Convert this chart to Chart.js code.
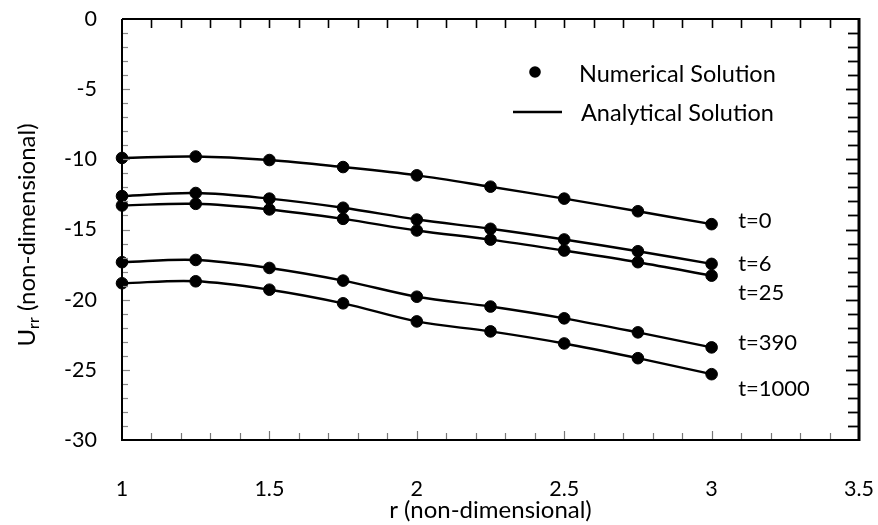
<!DOCTYPE html>
<html><head><meta charset="utf-8">
<script src="https://cdn.jsdelivr.net/npm/chart.js@4.4.0/dist/chart.umd.min.js"></script>
<style>html,body{margin:0;padding:0;background:#fff}#wrap{width:878px;height:525px;position:relative}</style>
</head><body><div id="wrap"><canvas id="c" width="878" height="525"></canvas></div>
<script>
// ---- data ----
const rValues = [1, 1.25, 1.5, 1.75, 2, 2.25, 2.5, 2.75, 3];
const seriesNames = ['t=0', 't=6', 't=25', 't=390', 't=1000'];
const u_t0    = [-9.90, -9.80, -10.05, -10.55, -11.14, -11.95, -12.80, -13.70, -14.62];
const u_t6    = [-12.62, -12.40, -12.80, -13.45, -14.29, -14.95, -15.71, -16.55, -17.45];
const u_t25   = [-13.29, -13.17, -13.57, -14.24, -15.07, -15.72, -16.50, -17.33, -18.29];
const u_t390  = [-17.33, -17.17, -17.74, -18.64, -19.79, -20.49, -21.33, -22.33, -23.40];
const u_t1000 = [-18.83, -18.69, -19.29, -20.26, -21.55, -22.26, -23.12, -24.17, -25.31];
const xTickValues = [1, 1.5, 2, 2.5, 3, 3.5];
const yTickValues = [0, -5, -10, -15, -20, -25, -30];
const legendNames = ['Numerical Solution', 'Analytical Solution'];
const xTitle = 'r (non-dimensional)';
const yTitleMain = 'U', yTitleSub = 'rr', yTitleRest = ' (non-dimensional)';

// ---- layout / style (not data) ----
const seriesValues = [u_t0, u_t6, u_t25, u_t390, u_t1000];
const labelAnchorX = 3.09;
const labelAnchorY = [-14.36, -17.43, -19.5, -23.07, -26.36];
const FONT = 'Lato';

const datasets = [];
seriesValues.forEach((vals, i) => {
  const pts = rValues.map((r, k) => ({x: r, y: vals[k]}));
  datasets.push({
    label: seriesNames[i] + ' analytical', data: pts, showLine: true,
    borderColor: '#000', borderWidth: 2.4, pointRadius: 0, tension: 0.35,
    clip: false, order: 2
  });
  datasets.push({
    label: seriesNames[i] + ' numerical', data: pts, showLine: false,
    backgroundColor: '#000', borderColor: '#000', pointRadius: 5.8, pointHoverRadius: 5.8,
    clip: false, order: 1
  });
});

const decor = {
  id: 'decor',
  afterDatasetsDraw(chart) {
    const {ctx, chartArea: a, scales: {x, y}} = chart;
    ctx.save();
    for (let i = 1; i < 25; i++) {
      const v = 1 + i * 0.1;
      const px = Math.round(x.getPixelForValue(v)) + 0.5;
      const major = i % 5 === 0;
      ctx.strokeStyle = '#000'; ctx.lineWidth = 1.6;
      ctx.beginPath(); ctx.moveTo(px, a.top); ctx.lineTo(px, a.top + 9); ctx.stroke();
      ctx.strokeStyle = '#777'; ctx.lineWidth = 1.2;
      ctx.beginPath(); ctx.moveTo(px, a.bottom); ctx.lineTo(px, a.bottom - (major ? 9 : 7)); ctx.stroke();
    }
    for (let i = 1; i < 30; i++) {
      const v = -i;
      const py = Math.round(y.getPixelForValue(v)) + 0.5;
      const major = i % 5 === 0;
      ctx.strokeStyle = '#888'; ctx.lineWidth = 1.2;
      ctx.beginPath(); ctx.moveTo(a.left, py); ctx.lineTo(a.left + (major ? 8 : 6), py); ctx.stroke();
      ctx.strokeStyle = '#000'; ctx.lineWidth = 1.8;
      ctx.beginPath(); ctx.moveTo(a.right, py); ctx.lineTo(a.right - (major ? 13 : 11), py); ctx.stroke();
    }
    ctx.strokeStyle = '#000'; ctx.lineWidth = 2;
    ctx.beginPath();
    ctx.moveTo(a.left, a.top); ctx.lineTo(a.right, a.top);
    ctx.moveTo(a.left, a.top); ctx.lineTo(a.left, a.bottom); ctx.lineTo(a.right, a.bottom);
    ctx.stroke();
    ctx.lineWidth = 3;
    ctx.beginPath(); ctx.moveTo(a.right, a.top - 1); ctx.lineTo(a.right, a.bottom + 1); ctx.stroke();

    // series labels
    ctx.fillStyle = '#000';
    ctx.font = '22px ' + FONT;
    ctx.textAlign = 'left'; ctx.textBaseline = 'middle';
    seriesNames.forEach((n, i) => {
      ctx.fillText(n, x.getPixelForValue(labelAnchorX), y.getPixelForValue(labelAnchorY[i]));
    });

    // legend
    ctx.font = '23.5px ' + FONT;
    ctx.beginPath(); ctx.arc(535, 72, 5.8, 0, Math.PI * 2); ctx.fill();
    ctx.fillText(legendNames[0], 579, 74);
    ctx.lineWidth = 2.4;
    ctx.beginPath(); ctx.moveTo(513, 112); ctx.lineTo(562, 112); ctx.stroke();
    ctx.fillText(legendNames[1], 581, 113);

    // y title with subscript
    ctx.translate(27, 235);
    ctx.rotate(-Math.PI / 2);
    const fMain = '24px ' + FONT, fSub = '16px ' + FONT;
    ctx.font = fMain; const w1 = ctx.measureText(yTitleMain).width;
    ctx.font = fSub; const w2 = ctx.measureText(yTitleSub).width;
    ctx.font = fMain; const w3 = ctx.measureText(yTitleRest).width;
    let sx = -(w1 + w2 + w3) / 2;
    ctx.textAlign = 'left'; ctx.textBaseline = 'alphabetic';
    ctx.font = fMain; ctx.fillText(yTitleMain, sx, 8); sx += w1;
    ctx.font = fSub; ctx.fillText(yTitleSub, sx, 12); sx += w2;
    ctx.font = fMain; ctx.fillText(yTitleRest, sx, 8);
    ctx.restore();
  }
};

new Chart(document.getElementById('c'), {
  type: 'scatter',
  data: {datasets},
  options: {
    responsive: false, animation: false, devicePixelRatio: 1,
    layout: {padding: {top: 19, right: 19, left: 0, bottom: 0}},
    plugins: {legend: {display: false}, tooltip: {enabled: false}},
    scales: {
      x: {
        type: 'linear', min: 1, max: 3.5,
        afterBuildTicks: s => { s.ticks = xTickValues.map(v => ({value: v})); },
        afterFit: s => { s.height = 85; },
        grid: {display: true, drawOnChartArea: false, drawTicks: true, tickLength: 36, color: 'rgba(0,0,0,0)'},
        border: {display: false},
        ticks: {padding: 0, color: '#000', font: {family: FONT, size: 21.5}, maxRotation: 0, autoSkip: false,
                callback: v => String(v)},
        title: {display: true, text: xTitle, color: '#000', font: {family: FONT, size: 24}, padding: {top: 0, bottom: 0}}
      },
      y: {
        type: 'linear', min: -30, max: 0,
        afterBuildTicks: s => { s.ticks = yTickValues.map(v => ({value: v})); },
        afterFit: s => { s.width = 122; },
        grid: {display: true, drawOnChartArea: false, drawTicks: true, tickLength: 25, color: 'rgba(0,0,0,0)'},
        border: {display: false},
        ticks: {padding: 0, color: '#000', font: {family: FONT, size: 21.5}, autoSkip: false,
                callback: v => String(v)}
      }
    }
  },
  plugins: [decor]
});
</script></body></html>
